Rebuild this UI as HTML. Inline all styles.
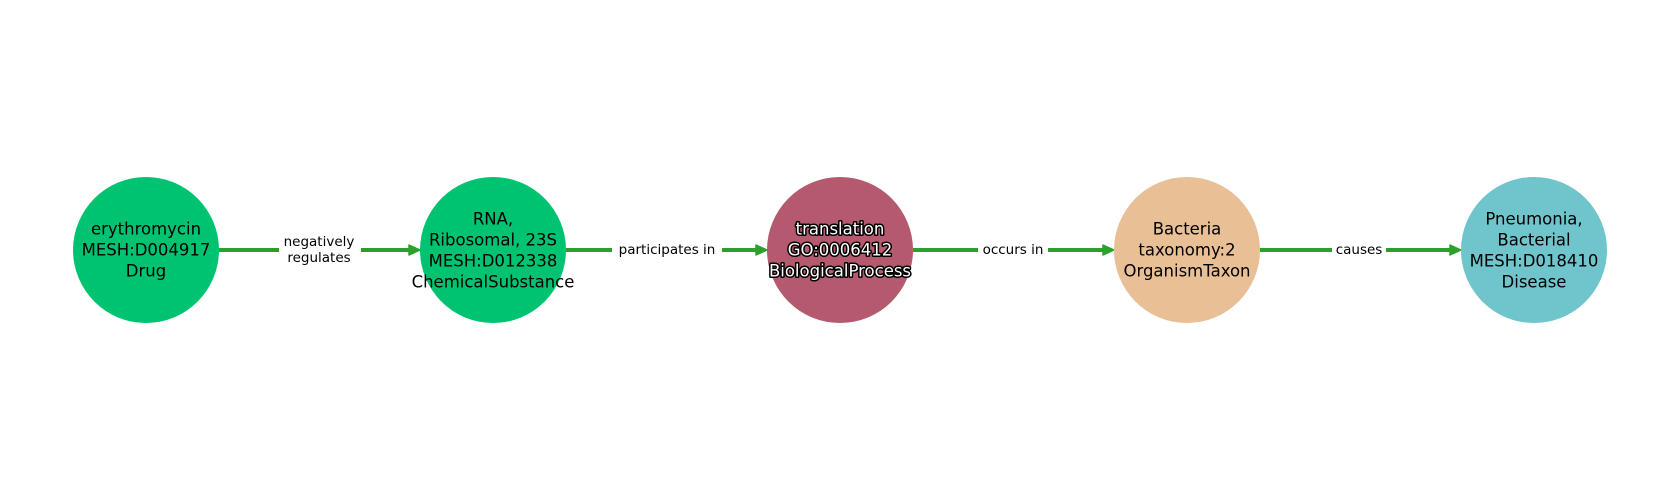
<!DOCTYPE html>
<html><head><style>body{margin:0;background:#fff}svg{display:block}</style></head><body>
<svg width="1680" height="500" viewBox="0 0 1680 500" xmlns="http://www.w3.org/2000/svg" font-family="DejaVu Sans, Liberation Sans, sans-serif">
<g stroke="#2ca02c" stroke-width="4">
<line x1="219" y1="250" x2="412" y2="250"/>
<line x1="566" y1="250" x2="759" y2="250"/>
<line x1="913" y1="250" x2="1106" y2="250"/>
<line x1="1260" y1="250" x2="1453" y2="250"/>
</g>
<g fill="#2ca02c" stroke="#2ca02c" stroke-width="1.5" stroke-linejoin="round">
<polygon points="409,245 420,250 409,255"/>
<polygon points="756,245 767,250 756,255"/>
<polygon points="1103,245 1114,250 1103,255"/>
<polygon points="1450,245 1461,250 1450,255"/>
</g>
<g fill="#fff">
<rect x="279" y="232" width="82" height="38"/>
<rect x="612" y="240" width="110" height="20"/>
<rect x="978" y="240" width="70" height="20"/>
<rect x="1332" y="240" width="54" height="20"/>
</g>
<g font-size="13.5" text-anchor="middle" fill="#000" dominant-baseline="central">
<text x="319" y="242">negatively</text><text x="319" y="258">regulates</text>
<text x="667" y="250">participates in</text>
<text x="1013" y="250">occurs in</text>
<text x="1359" y="250">causes</text>
</g>
<circle cx="146" cy="250" r="73" fill="#00c372"/>
<circle cx="493" cy="250" r="73" fill="#00c372"/>
<circle cx="840" cy="250" r="73" fill="#b5596e"/>
<circle cx="1187" cy="250" r="73" fill="#e9bf96"/>
<circle cx="1534" cy="250" r="73" fill="#6fc5cb"/>
<g font-size="16.5" text-anchor="middle" fill="#000" dominant-baseline="central">
<text x="146" y="229">erythromycin</text><text x="146" y="250">MESH:D004917</text><text x="146" y="271">Drug</text>
<text x="493" y="219">RNA,</text><text x="493" y="240">Ribosomal, 23S</text><text x="493" y="261">MESH:D012338</text><text x="493" y="282">ChemicalSubstance</text>
<text x="1187" y="229">Bacteria</text><text x="1187" y="250">taxonomy:2</text><text x="1187" y="271">OrganismTaxon</text>
<text x="1534" y="219">Pneumonia,</text><text x="1534" y="240">Bacterial</text><text x="1534" y="261">MESH:D018410</text><text x="1534" y="282">Disease</text>
</g>
<g font-size="16.5" text-anchor="middle" fill="#fff" stroke="#000" stroke-width="3" paint-order="stroke" stroke-linejoin="round" dominant-baseline="central">
<text x="840" y="229">translation</text><text x="840" y="250">GO:0006412</text><text x="840" y="271">BiologicalProcess</text>
</g>
</svg>
</body></html>
